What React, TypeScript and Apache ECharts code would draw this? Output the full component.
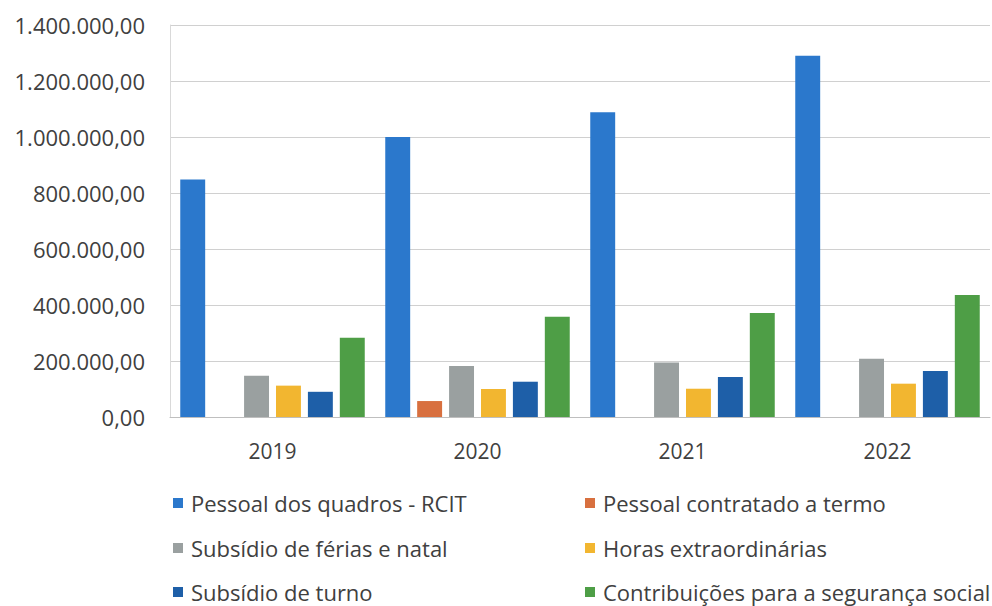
import React, { useEffect, useRef } from "react";
import * as echarts from "echarts";

const years = ["2019", "2020", "2021", "2022"];
const seriesNames = [
  "Pessoal dos quadros - RCIT",
  "Pessoal contratado a termo",
  "Subsídio de férias e natal",
  "Horas extraordinárias",
  "Subsídio de turno",
  "Contribuições para a segurança social",
];
const pessoalQuadros = [848000, 1000000, 1088000, 1290000];
const pessoalContratado = [0, 57000, 0, 0];
const subsidioFerias = [147000, 182000, 195000, 208000];
const horasExtra = [112000, 100000, 101000, 119000];
const subsidioTurno = [90000, 126000, 143000, 164000];
const contribuicoes = [283000, 358000, 371000, 436000];
const colors = ["#2b78cc", "#d8703f", "#9aa0a0", "#f2b630", "#1e5fa8", "#4e9e46"];
const yTicks = [0, 200000, 400000, 600000, 800000, 1000000, 1200000, 1400000];

const fmt = (v: number) => {
  const s = Math.round(v).toString().replace(/\B(?=(\d{3})+(?!\d))/g, ".");
  return s + ",00";
};

export default function App() {
  const ref = useRef<HTMLDivElement>(null);
  useEffect(() => {
    if (!ref.current) return;
    const chart = echarts.init(ref.current, null, { renderer: "svg" });
    const data = [pessoalQuadros, pessoalContratado, subsidioFerias, horasExtra, subsidioTurno, contribuicoes];
    const font = "'Open Sans', 'Noto Sans', sans-serif";
    const legendPos = [
      { left: 173, top: 492 },
      { left: 585, top: 492 },
      { left: 173, top: 537 },
      { left: 585, top: 537 },
      { left: 173, top: 581 },
      { left: 585, top: 581 },
    ];
    chart.setOption({
      animation: false,
      backgroundColor: "#ffffff",
      color: colors,
      textStyle: { fontFamily: font },
      grid: { left: 170, right: 2, top: 25, bottom: 189, containLabel: false },
      legend: seriesNames.map((n, i) => ({
        data: [n],
        left: legendPos[i].left,
        top: legendPos[i].top,
        itemWidth: 10,
        itemHeight: 10,
        itemGap: 4,
        icon: "rect",
        padding: 0,
        textStyle: { fontSize: 22, lineHeight: 22, color: "#404040", fontFamily: font, padding: [0, 0, 0, 3] },
      })),
      xAxis: {
        type: "category",
        data: years,
        axisLine: { lineStyle: { color: "#bfbfbf" } },
        axisTick: { show: false },
        axisLabel: { fontSize: 21, color: "#404040", margin: 23, fontFamily: font },
      },
      yAxis: {
        type: "value",
        min: yTicks[0],
        max: yTicks[yTicks.length - 1],
        interval: 200000,
        axisLine: { show: true, lineStyle: { color: "#d9d9d9" } },
        splitLine: { lineStyle: { color: "#d0d0d0" } },
        axisLabel: {
          fontSize: 22,
          color: "#404040",
          margin: 25,
          fontFamily: font,
          formatter: (v: number) => fmt(v),
        },
      },
      series: seriesNames.map((n, i) => ({
        name: n,
        type: "bar",
        data: data[i],
        barGap: "28%",
        barCategoryGap: "10%",
        itemStyle: { color: colors[i] },
      })),
    });
    return () => chart.dispose();
  }, []);
  return <div ref={ref} style={{ width: 992, height: 606, position: "absolute", left: 0, top: 0 }} />;
}
